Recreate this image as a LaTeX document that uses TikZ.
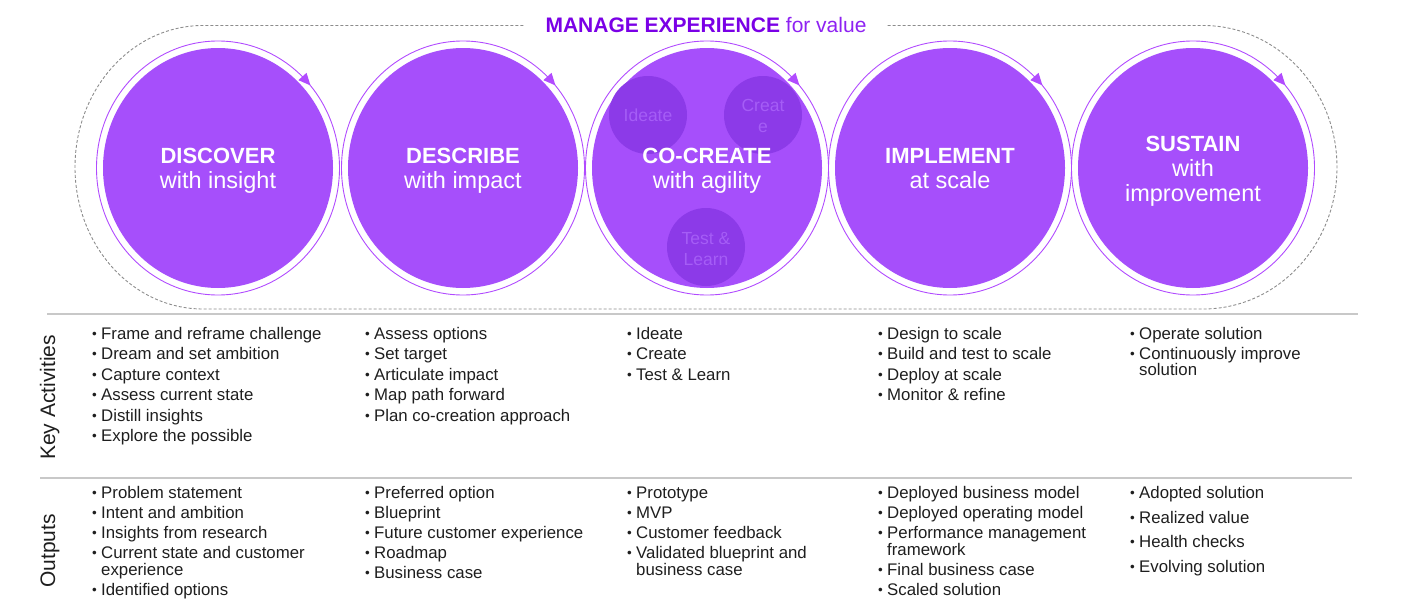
\documentclass[tikz,border=0pt]{standalone}
\usepackage{fontspec}
\setmainfont{Liberation Sans}
\usetikzlibrary{shapes.geometric,calc}

\definecolor{cfill}{HTML}{A64FFB}
\definecolor{cring}{HTML}{B14BFF}
\definecolor{csmall}{HTML}{8C3AE8}
\definecolor{csmalltxt}{HTML}{A55DF6}
\definecolor{ctitle}{HTML}{7A00E6}
\definecolor{ctitlelt}{HTML}{8E22F2}
\definecolor{cdash}{HTML}{8C8C8C}
\definecolor{crule}{HTML}{C8C8C8}
\definecolor{ctext}{HTML}{1E1E1E}

\newcommand\itembul{\makebox[9pt][l]{\raisebox{0.6pt}{\scalebox{0.8}{\textbullet}}}}

\begin{document}
\begin{tikzpicture}[x=1pt,y=1pt,
  phase/.style={ellipse, fill=cfill, minimum width=230pt, minimum height=240pt, inner sep=0pt},
  ringline/.style={ellipse, draw=cring, line width=0.9pt, minimum width=243pt, minimum height=254pt, inner sep=0pt},
  headbold/.style={anchor=base, text=white, inner sep=0pt, font=\fontsize{22}{25}\selectfont\bfseries},
  headreg/.style={anchor=base, text=white, inner sep=0pt, font=\fontsize{23.5}{25}\selectfont},
  subcircle/.style={circle, fill=csmall, minimum size=78pt, inner sep=0pt},
  subtxt/.style={anchor=base, text=csmalltxt, inner sep=0pt, font=\fontsize{17.5}{21}\selectfont},
  outline/.style={draw=cdash, line width=0.9pt, dash pattern=on 3pt off 2pt},
  rule/.style={draw=crule, line width=1.5pt},
  rowlabel/.style={anchor=base, rotate=90, inner sep=0pt, text=ctext, font=\fontsize{21}{24}\selectfont},
  itm/.style={anchor=base west, inner sep=0pt, text=ctext, font=\fontsize{16.8}{17}\selectfont}]

\useasboundingbox (0,0) rectangle (1401,-613);

% title and the dashed loop around the five phases
\node[anchor=base, inner sep=0pt] (title) at (706,-32)
  {\fontsize{21}{24}\selectfont\textcolor{ctitle}{\textbf{MANAGE EXPERIENCE}} \textcolor{ctitlelt}{for value}};
\draw[outline] ($(title.west)+(-22,-1)$) -- (203,-25.5)
  arc[start angle=90, end angle=270, x radius=128, y radius=141.75]
  -- (1203,-309)
  arc[start angle=-90, end angle=90, x radius=134, y radius=141.75]
  -- ($(title.east)+(20,-1)$);

% phase circles with their direction marks
\foreach \n/\cx in {1/218, 2/463, 3/707, 4/950, 5/1193} {
  \node[phase] (c\n) at (\cx,-168) {};
  \node[ringline] (r\n) at (\cx,-168) {};
  \begin{scope}[shift={($(r\n.center)+(43.5:121.5 and 127)$)}, rotate=-48]
    \fill[cring] (6.5,0) -- (-5.5,5.5) -- (-5.5,-5.5) -- cycle;
  \end{scope}
}

% co-create sub-steps
\node[subcircle] (ideate) at (648,-115) {};
\node[subcircle] (create) at (763,-115) {};
\node[subcircle] (testlearn) at (706,-247) {};
\node[subtxt] (ideatet) at (648,-121.5) {Ideate};
\node[subtxt] (createta) at (763,-111) {Creat};
\node[subtxt] (createtb) at (763,-132) {e};
\node[subtxt] (testlearnta) at (706,-244) {Test \&};
\node[subtxt] (testlearntb) at (706,-265) {Learn};

% phase headings
\node[headbold] (h1a) at (218,-163) {DISCOVER};
\node[headreg]  (h1b) at (218,-188) {with insight};
\node[headbold] (h2a) at (463,-163) {DESCRIBE};
\node[headreg]  (h2b) at (463,-188) {with impact};
\node[headbold] (h3a) at (707,-163) {CO-CREATE};
\node[headreg]  (h3b) at (707,-188) {with agility};
\node[headbold] (h4a) at (950,-163) {IMPLEMENT};
\node[headreg]  (h4b) at (950,-188) {at scale};
\node[headbold] (h5a) at (1193,-151) {SUSTAIN};
\node[headreg]  (h5b) at (1193,-176) {with};
\node[headreg]  (h5c) at (1193,-201) {improvement};

% table rules and row labels
\coordinate (ruleAa) at (47,-314);
\coordinate (ruleAb) at (1358,-314);
\coordinate (ruleBa) at (40,-478);
\coordinate (ruleBb) at (1352,-478);
\draw[rule] (ruleAa) -- (ruleAb);
\draw[rule] (ruleBa) -- (ruleBb);
\node[rowlabel] (lblkey) at (55,-397.5) {Key Activities};
\node[rowlabel] (lblout) at (55,-551) {Outputs};

% key activities
\node[itm] (k11) at (92,-339) {\itembul Frame and reframe challenge};
\node[itm] (k12) at (92,-359.5) {\itembul Dream and set ambition};
\node[itm] (k13) at (92,-380) {\itembul Capture context};
\node[itm] (k14) at (92,-400.5) {\itembul Assess current state};
\node[itm] (k15) at (92,-421) {\itembul Distill insights};
\node[itm] (k16) at (92,-441) {\itembul Explore the possible};

\node[itm] (k21) at (365,-339) {\itembul Assess options};
\node[itm] (k22) at (365,-359.5) {\itembul Set target};
\node[itm] (k23) at (365,-380) {\itembul Articulate impact};
\node[itm] (k24) at (365,-400.5) {\itembul Map path forward};
\node[itm] (k25) at (365,-421) {\itembul Plan co-creation approach};

\node[itm] (k31) at (627,-339) {\itembul Ideate};
\node[itm] (k32) at (627,-359.5) {\itembul Create};
\node[itm] (k33) at (627,-380) {\itembul Test \& Learn};

\node[itm] (k41) at (878,-339) {\itembul Design to scale};
\node[itm] (k42) at (878,-359.5) {\itembul Build and test to scale};
\node[itm] (k43) at (878,-380) {\itembul Deploy at scale};
\node[itm] (k44) at (878,-400.5) {\itembul Monitor \& refine};

\node[itm] (k51) at (1130,-339) {\itembul Operate solution};
\node[itm] (k52) at (1130,-359.5) {\itembul Continuously improve};
\node[itm] (k52b) at (1139,-375.5) {solution};

% outputs
\node[itm] (o11) at (92,-498) {\itembul Problem statement};
\node[itm] (o12) at (92,-518) {\itembul Intent and ambition};
\node[itm] (o13) at (92,-538) {\itembul Insights from research};
\node[itm] (o14) at (92,-558) {\itembul Current state and customer};
\node[itm] (o14b) at (101,-575) {experience};
\node[itm] (o15) at (92,-595) {\itembul Identified options};

\node[itm] (o21) at (365,-498) {\itembul Preferred option};
\node[itm] (o22) at (365,-518) {\itembul Blueprint};
\node[itm] (o23) at (365,-538) {\itembul Future customer experience};
\node[itm] (o24) at (365,-558) {\itembul Roadmap};
\node[itm] (o25) at (365,-578) {\itembul Business case};

\node[itm] (o31) at (627,-498) {\itembul Prototype};
\node[itm] (o32) at (627,-518) {\itembul MVP};
\node[itm] (o33) at (627,-538) {\itembul Customer feedback};
\node[itm] (o34) at (627,-558) {\itembul Validated blueprint and};
\node[itm] (o34b) at (636,-575) {business case};

\node[itm] (o41) at (878,-498) {\itembul Deployed business model};
\node[itm] (o42) at (878,-518) {\itembul Deployed operating model};
\node[itm] (o43) at (878,-538) {\itembul Performance management};
\node[itm] (o43b) at (887,-555) {framework};
\node[itm] (o44) at (878,-575) {\itembul Final business case};
\node[itm] (o45) at (878,-595) {\itembul Scaled solution};

\node[itm] (o51) at (1130,-498) {\itembul Adopted solution};
\node[itm] (o52) at (1130,-523) {\itembul Realized value};
\node[itm] (o53) at (1130,-547) {\itembul Health checks};
\node[itm] (o54) at (1130,-572) {\itembul Evolving solution};
\end{tikzpicture}
\end{document}
